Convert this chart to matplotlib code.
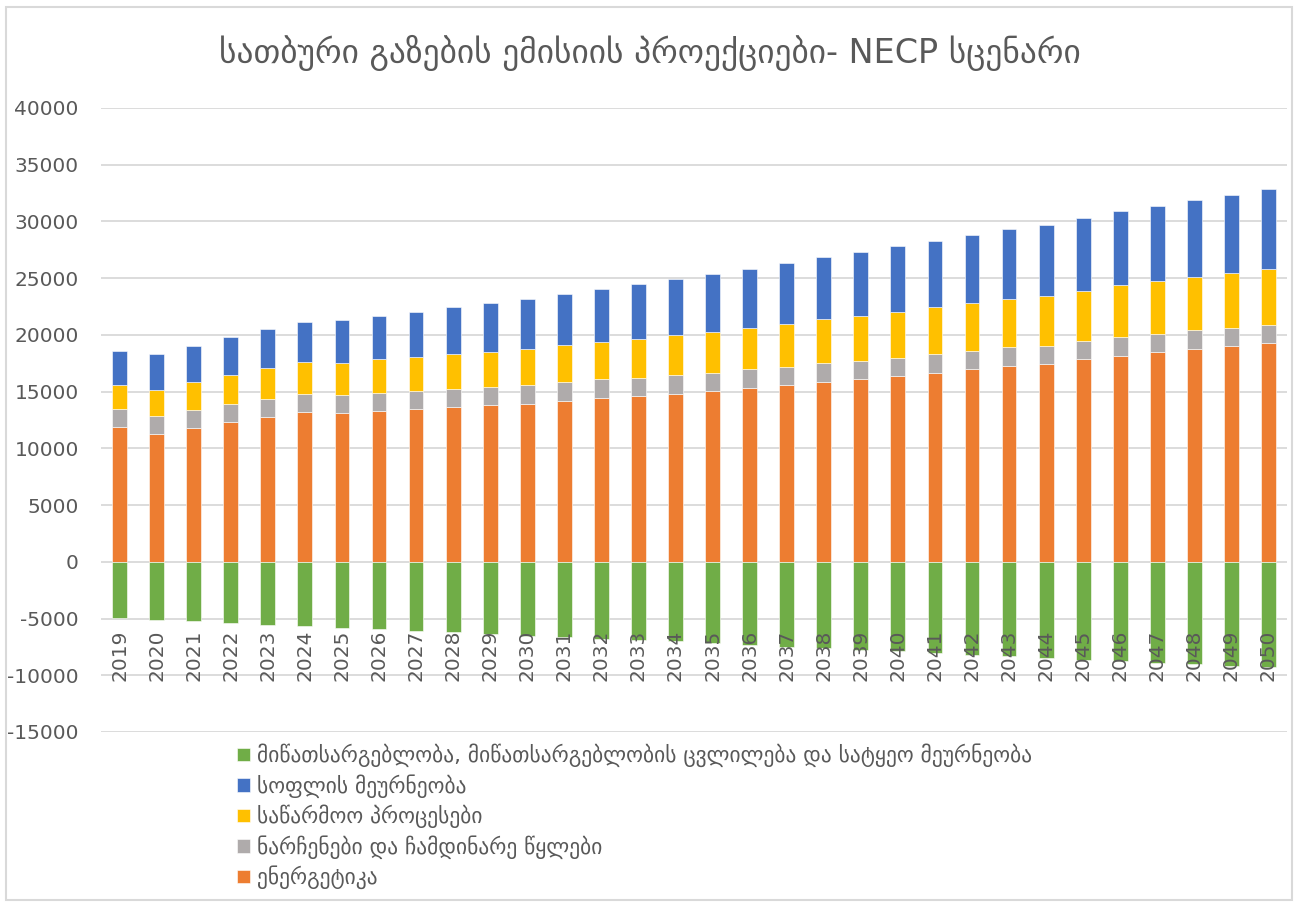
import numpy as np
import matplotlib.pyplot as plt
from matplotlib.patches import Rectangle

# data
years = [str(y) for y in range(2019, 2051)]

energy = [11840, 11250, 11780, 12310, 12800, 13240, 13100, 13330, 13510, 13660,
          13830, 13950, 14210, 14450, 14650, 14830, 15090, 15360, 15620, 15890,
          16150, 16410, 16680, 17000, 17300, 17470, 17830, 18180, 18530, 18790,
          19060, 19320]
waste = [1610, 1590, 1640, 1610, 1560, 1590, 1590, 1580, 1580, 1590,
         1590, 1610, 1620, 1620, 1590, 1650, 1590, 1620, 1590, 1590,
         1590, 1590, 1620, 1610, 1590, 1590, 1590, 1620, 1590, 1620,
         1580, 1590]
industry = [2170, 2340, 2410, 2560, 2700, 2760, 2850, 2940, 3000, 3080,
            3110, 3200, 3260, 3320, 3440, 3490, 3580, 3670, 3790, 3880,
            3960, 4030, 4140, 4200, 4290, 4400, 4490, 4580, 4620, 4700,
            4820, 4910]
agriculture = [3000, 3120, 3200, 3320, 3440, 3580, 3730, 3820, 3960, 4110,
               4260, 4430, 4550, 4670, 4820, 4960, 5080, 5200, 5320, 5460,
               5610, 5760, 5840, 5960, 6140, 6230, 6400, 6520, 6660, 6780,
               6900, 7020]
lulucf = [-4960, -5110, -5260, -5400, -5550, -5700, -5815, -5965, -6080, -6230,
          -6370, -6520, -6635, -6780, -6900, -7020, -7165, -7340, -7490, -7600,
          -7750, -7900, -8040, -8190, -8340, -8490, -8630, -8750, -8900, -9045,
          -9190, -9310]

labels = {
    "lulucf": "მიწათსარგებლობა, მიწათსარგებლობის ცვლილება და სატყეო მეურნეობა",
    "agriculture": "სოფლის მეურნეობა",
    "industry": "საწარმოო პროცესები",
    "waste": "ნარჩენები და ჩამდინარე წყლები",
    "energy": "ენერგეტიკა",
}
title = "სათბური გაზების ემისიის პროექციები- NECP სცენარი"

plt.rcParams['font.family'] = ['DejaVu Sans']
plt.rcParams['axes.unicode_minus'] = False
text_color = "#595959"
grid_color = "#d9d9d9"

fig = plt.figure(figsize=(12.97, 9.05), dpi=100)
ax = fig.add_axes([0.0779, 0.1912, 0.9144, 0.6895])

x = np.arange(len(years))
w = 0.4
e = np.array(energy)
g = np.array(waste)
ind = np.array(industry)
ag = np.array(agriculture)

kw = dict(width=w, edgecolor="white", linewidth=0.4, zorder=3)
b_energy = ax.bar(x, e, color="#ED7D31", **kw)
b_waste = ax.bar(x, g, bottom=e, color="#AFABAB", **kw)
b_ind = ax.bar(x, ind, bottom=e + g, color="#FFC000", **kw)
b_ag = ax.bar(x, ag, bottom=e + g + ind, color="#4472C4", **kw)
b_lu = ax.bar(x, lulucf, color="#70AD47", **kw)

ax.set_xlim(-0.5, len(years) - 0.5)
ax.set_ylim(-15000, 40000)
ax.set_yticks(range(-15000, 40001, 5000))
ax.yaxis.grid(True, color=grid_color, linewidth=1.3, zorder=0)
ax.set_axisbelow(True)
for s in ax.spines.values():
    s.set_visible(False)

ax.tick_params(axis="y", length=0, pad=16, labelsize=14.5, labelcolor=text_color)
ax.set_xticks([])

# category labels sit over the negative bars, like in the original
for xi, yr in zip(x, years):
    ax.text(xi, -10550, yr, rotation=90, ha="center", va="bottom",
            fontsize=14.5, color=text_color, zorder=5)

fig.text(0.501, 0.941, title, ha="center", va="center", fontsize=24, color=text_color)

handles = [b_lu, b_ag, b_ind, b_waste, b_energy]
names = [labels["lulucf"], labels["agriculture"], labels["industry"],
         labels["waste"], labels["energy"]]
leg = fig.legend(handles, names, loc="upper left", bbox_to_anchor=(0.176, 0.188),
                 frameon=False, fontsize=15.5, handlelength=0.6, handleheight=0.6,
                 handletextpad=0.35, labelspacing=0.32, borderaxespad=0)
for t in leg.get_texts():
    t.set_color(text_color)

# light frame around the chart area
fig.patches.append(Rectangle((0.0046, 0.005), 0.9915, 0.987, transform=fig.transFigure,
                             fill=False, edgecolor=grid_color, linewidth=1.5))

fig.savefig("out.png", dpi=100)
